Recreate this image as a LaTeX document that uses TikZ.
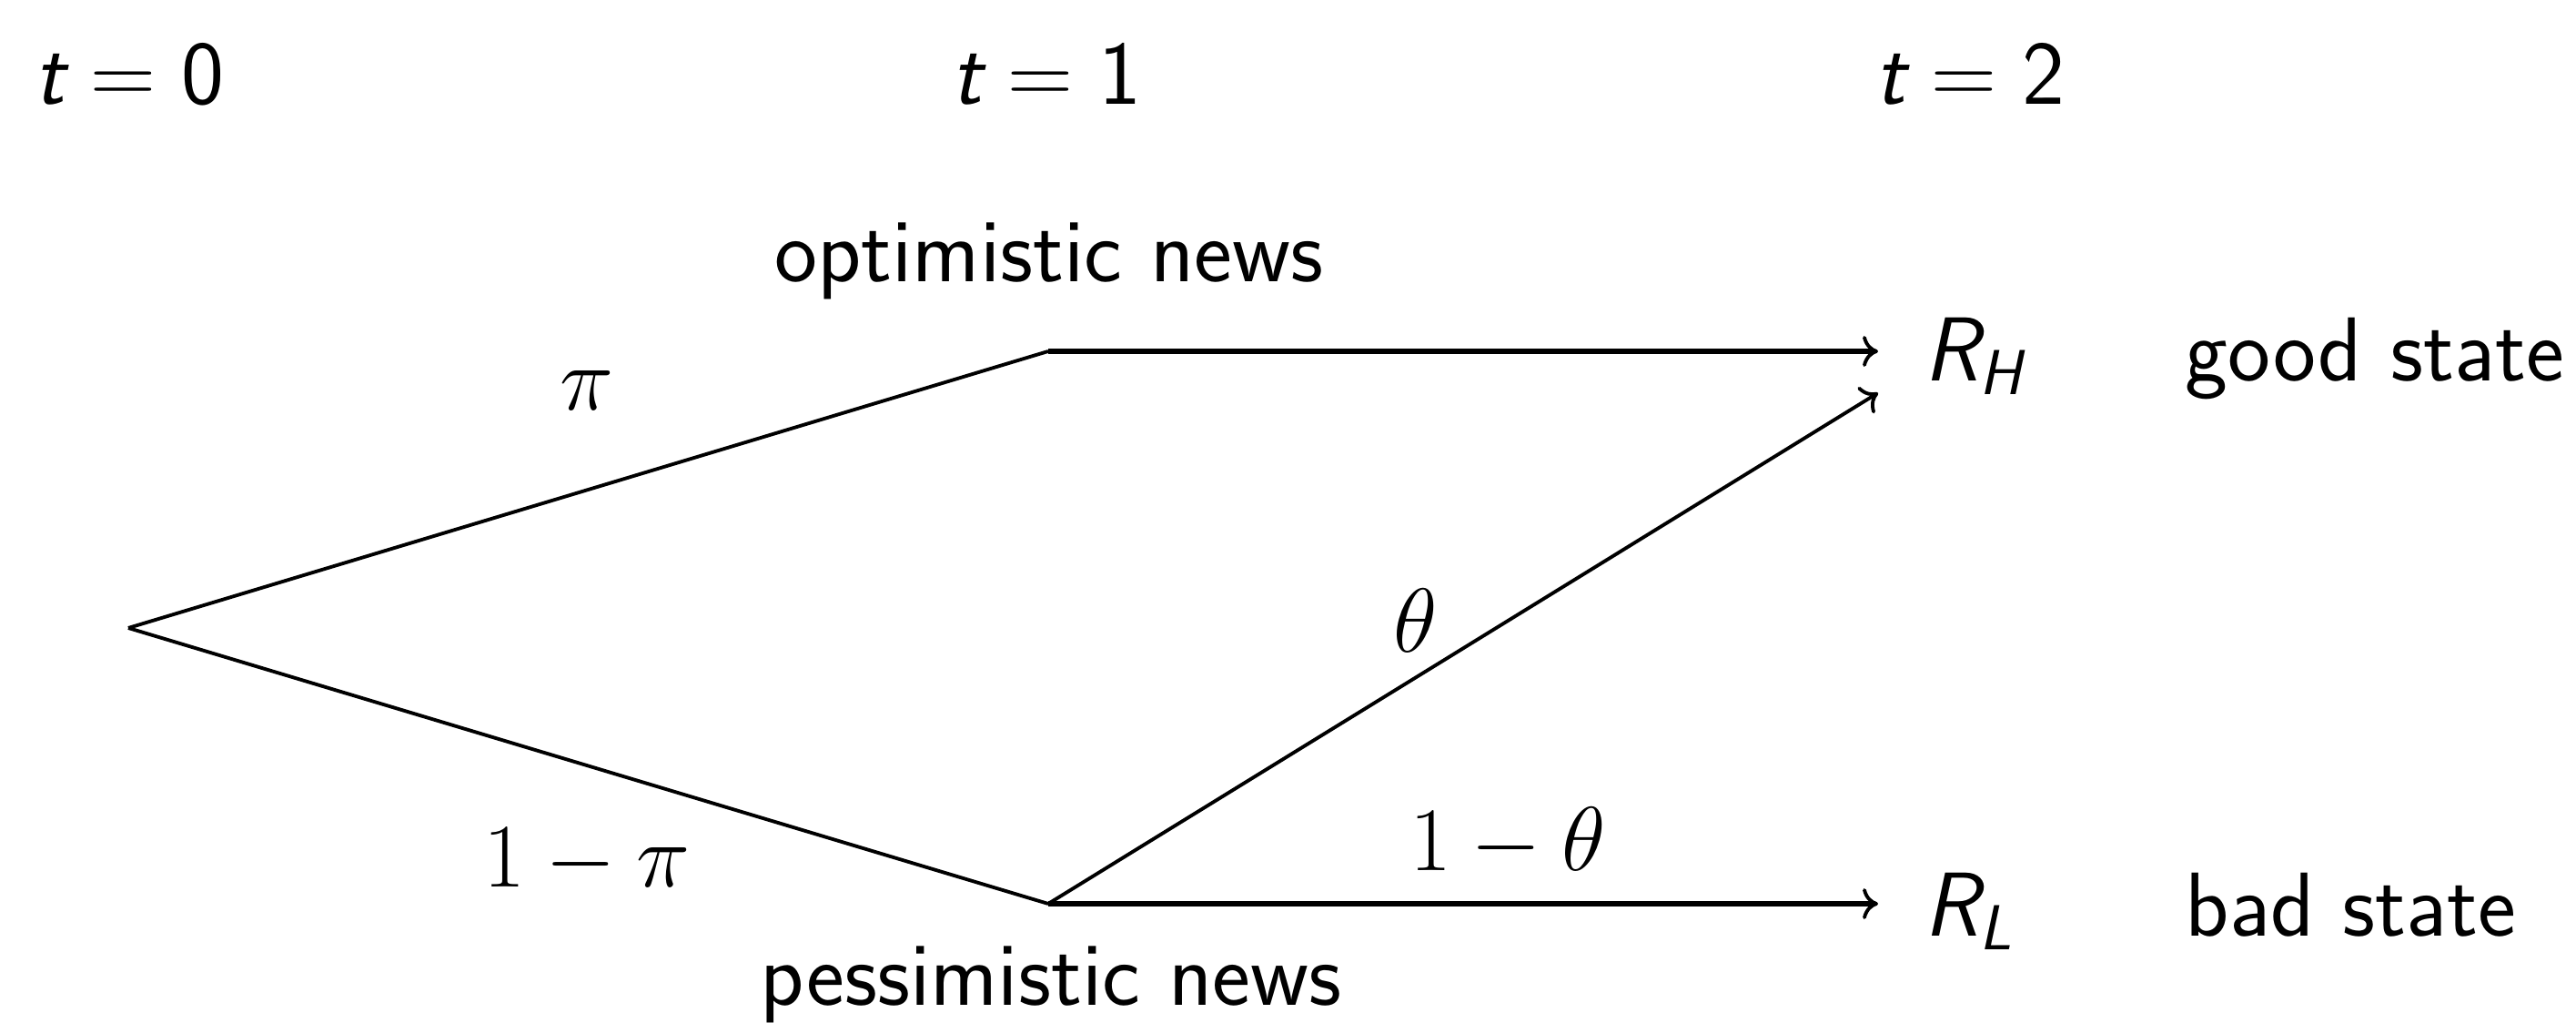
\RequirePackage{fix-cm}
\documentclass[tikz,border=0pt]{standalone}
\usepackage{amsmath}
\usetikzlibrary{arrows.meta}
\begin{document}
\begin{tikzpicture}[
  every node/.style={inner sep=0pt, font=\fontsize{28.4}{34}\selectfont\sffamily},
  thin line/.style={line width=1.1pt},
  cmtip/.style={-{Computer Modern Rightarrow[length=0.17cm,width=0.34cm,line width=1.1pt]}},
  thick arrow/.style={line width=1.8pt, cmtip},
  slim arrow/.style={line width=1.1pt, cmtip},
  lbl/.style={anchor=base}
]
\useasboundingbox (0,0) rectangle (28.31,11.24);
% time labels
\node[lbl] (t0) at (1.42,10.09) {$\textsf{\itshape t} = \mathsf{0}$};
\node[lbl] (t1) at (11.50,10.09) {$\textsf{\itshape t} = \mathsf{1}$};
\node[lbl] (t2) at (21.65,10.09) {$\textsf{\itshape t} = \mathsf{2}$};
% tree points
\coordinate (root) at (1.41,4.34);
\coordinate (opt) at (11.52,7.38);
\coordinate (pes) at (11.52,1.31);
% outcomes
\node[anchor=base west, inner xsep=0.5cm] (RH) at (20.64,7.05) {$\textsf{\itshape R}_{\textsf{\itshape H}}$};
\node[anchor=base west, inner xsep=0.5cm] (RL) at (20.64,0.95) {$\textsf{\itshape R}_{\textsf{\itshape L}}$};
\node[anchor=base west] (good) at (24.01,7.05) {good state};
\node[anchor=base west] (bad) at (24.01,0.95) {bad state};
% news labels
\node[lbl] (optn) at (11.53,8.14) {optimistic news};
\node[lbl] (pesn) at (11.55,0.19) {pessimistic news};
% connectors
\draw[thin line] (root) -- (opt);
\draw[thin line] (root) -- (pes);
\draw[thick arrow] (opt) -- (opt -| RH.west);
\draw[thick arrow] (pes) -- (pes -| RL.west);
\draw[slim arrow] (pes) -- ([yshift=0.03cm]RH.south west);
% probability labels
\node[lbl] (pi) at (6.45,6.73) {$\pi$};
\node[lbl] (onepi) at (6.45,1.49) {$1-\pi$};
\node[lbl] (th) at (15.56,4.07) {$\theta$};
\node[lbl] (oneth) at (16.57,1.67) {$1-\theta$};
\end{tikzpicture}
\end{document}
